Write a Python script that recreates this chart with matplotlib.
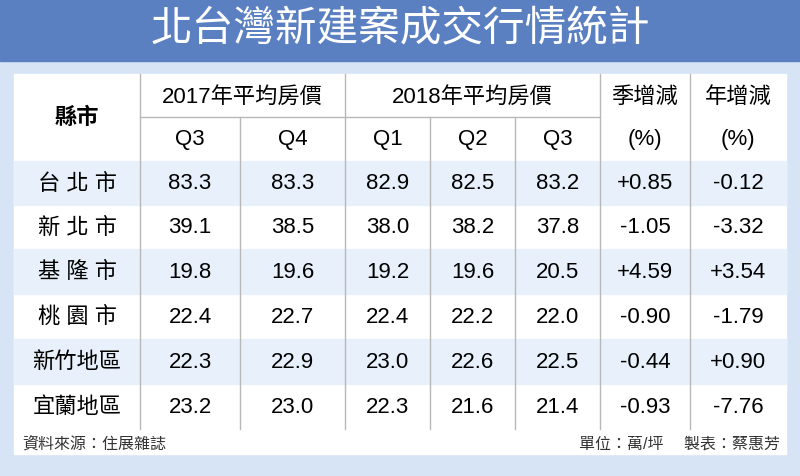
import matplotlib
matplotlib.use("Agg")
import matplotlib.pyplot as plt
from matplotlib.patches import Rectangle

plt.rcParams['font.family'] = ['Liberation Sans', 'Noto Sans CJK TC', 'DejaVu Sans']

title = "北台灣新建案成交行情統計"
cities = ["台 北 市", "新 北 市", "基 隆 市", "桃 園 市", "新竹地區", "宜蘭地區"]
q3_2017 = ["83.3", "39.1", "19.8", "22.4", "22.3", "23.2"]
q4_2017 = ["83.3", "38.5", "19.6", "22.7", "22.9", "23.0"]
q1_2018 = ["82.9", "38.0", "19.2", "22.4", "23.0", "22.3"]
q2_2018 = ["82.5", "38.2", "19.6", "22.2", "22.6", "21.6"]
q3_2018 = ["83.2", "37.8", "20.5", "22.0", "22.5", "21.4"]
qoq = ["+0.85", "-1.05", "+4.59", "-0.90", "-0.44", "-0.93"]
yoy = ["-0.12", "-3.32", "+3.54", "-1.79", "+0.90", "-7.76"]

fig = plt.figure(figsize=(8, 4.77), dpi=100)
ax = fig.add_axes([0, 0, 1, 1])
ax.set_xlim(0, 800); ax.set_ylim(477, 0); ax.axis('off')

ax.add_patch(Rectangle((0, 0), 800, 477, color='#d6e4f5'))
ax.add_patch(Rectangle((0, 0), 800, 62, color='#5b80c2'))
ax.text(400, 30, title, color='white', fontsize=30, ha='center', va='center')
ax.add_patch(Rectangle((14, 75), 772, 380, color='white'))

xs = [14, 140, 240, 345, 430, 515, 600, 690, 786]
rows = [162, 206, 250, 295, 340, 385, 430]
for i in range(6):
    if i % 2 == 0:
        ax.add_patch(Rectangle((14, rows[i]), 772, rows[i+1]-rows[i], color='#e8f1fb'))

lc = '#b8b8b8'
for x in xs[1:-1]:
    top = 118 if x in (240, 430, 515) else 75
    ax.plot([x, x], [top, 430], color=lc, lw=1)
ax.plot([140, 600], [118, 118], color=lc, lw=1)

fs = 16
ax.text(77, 118, "縣市", fontsize=fs, ha='center', va='center', fontweight='bold')
ax.text(242, 97, "2017年平均房價", fontsize=fs, ha='center', va='center')
ax.text(472, 97, "2018年平均房價", fontsize=fs, ha='center', va='center')
ax.text(645, 97, "季增減", fontsize=fs, ha='center', va='center')
ax.text(738, 97, "年增減", fontsize=fs, ha='center', va='center')
ax.text(645, 140, "(%)", fontsize=fs, ha='center', va='center')
ax.text(738, 140, "(%)", fontsize=fs, ha='center', va='center')
for j, q in enumerate(["Q3", "Q4", "Q1", "Q2", "Q3"]):
    ax.text((xs[j+1]+xs[j+2])/2, 140, q, fontsize=fs, ha='center', va='center')

cols = [q3_2017, q4_2017, q1_2018, q2_2018, q3_2018, qoq, yoy]
for i in range(6):
    y = (rows[i] + rows[i+1]) / 2
    ax.text(77, y, cities[i], fontsize=fs, ha='center', va='center')
    for j, c in enumerate(cols):
        ax.text((xs[j+1]+xs[j+2])/2, y, c[i], fontsize=fs, ha='center', va='center')

ax.text(22, 444, "資料來源：住展雜誌", fontsize=11.5, ha='left', va='center', color='#333333')
ax.text(780, 444, "單位：萬/坪　 製表：蔡惠芳", fontsize=11.5, ha='right', va='center', color='#333333')

fig.savefig("out.png", dpi=100)
